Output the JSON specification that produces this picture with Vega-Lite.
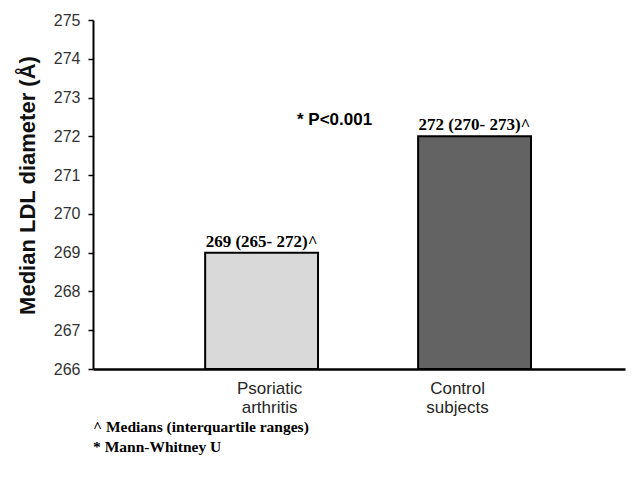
{
  "$schema": "https://vega.github.io/schema/vega-lite/v6.json",
  "width": 532,
  "height": 349,
  "autosize": "none",
  "padding": {"left": 93, "top": 20, "right": 10, "bottom": 119},
  "background": "white",
  "config": {"view": {"stroke": null}},
  "title": {
    "text": ["^ Medians (interquartile ranges)", "* Mann-Whitney U"],
    "orient": "bottom",
    "anchor": "start",
    "frame": "group",
    "align": "left",
    "font": "Liberation Serif",
    "fontSize": 15.5,
    "fontWeight": "bold",
    "color": "black",
    "lineHeight": 20,
    "offset": 5
  },
  "data": {
    "values": [
      {"group": "Psoriatic arthritis", "median": 269, "label": "269 (265- 272)^"},
      {"group": "Control subjects", "median": 272, "label": "272 (270- 273)^"}
    ]
  },
  "encoding": {
    "x": {
      "field": "group",
      "type": "nominal",
      "sort": null,
      "scale": {"paddingInner": 0.47, "paddingOuter": 0.484, "align": 0.544},
      "axis": {
        "title": null,
        "ticks": false,
        "tickSize": 0,
        "domainColor": "black",
        "domainWidth": 2.5,
        "labelAngle": 0,
        "labelFont": "Liberation Sans",
        "labelFontSize": 17,
        "labelColor": "#262626",
        "labelPadding": 11,
        "labelLineHeight": 19,
        "labelExpr": "split(datum.label, ' ')",
        "labelOffset": {"condition": {"test": "datum.value === 'Psoriatic arthritis'", "value": 8}, "value": -17}
      }
    },
    "y": {
      "field": "median",
      "type": "quantitative",
      "scale": {"domain": [266, 275], "nice": false, "zero": false},
      "axis": {
        "title": "Median LDL diameter (Å)",
        "titleFont": "Liberation Sans",
        "titleFontSize": 22,
        "titleFontWeight": "bold",
        "titleColor": "#111111",
        "titleX": -66,
        "titleY": 165,
        "titleAlign": "center",
        "titleBaseline": "middle",
        "titleAngle": -90,
        "values": [266, 267, 268, 269, 270, 271, 272, 273, 274, 275],
        "format": "d",
        "grid": false,
        "domainColor": "black",
        "domainWidth": 2,
        "tickColor": "black",
        "tickWidth": 1.5,
        "tickSize": 5,
        "labelFont": "Liberation Sans",
        "labelFontSize": 16,
        "labelColor": "#333333",
        "labelPadding": 8
      }
    }
  },
  "layer": [
    {
      "mark": {"type": "bar", "stroke": "black", "strokeWidth": 2},
      "encoding": {
        "y2": {"datum": 266},
        "color": {
          "field": "group",
          "type": "nominal",
          "scale": {"domain": ["Psoriatic arthritis", "Control subjects"], "range": ["#d8d9d8", "#636363"]},
          "legend": null
        }
      }
    },
    {
      "mark": {"type": "text", "font": "Liberation Serif", "fontWeight": "bold", "fontSize": 17, "baseline": "alphabetic", "dy": -6, "color": "black"},
      "encoding": {"text": {"field": "label"}}
    },
    {
      "data": {"values": [{"group": "Psoriatic arthritis", "median": 272.42, "note": "* P<0.001"}]},
      "mark": {"type": "text", "font": "Liberation Sans", "fontWeight": "bold", "fontSize": 17, "baseline": "middle", "dx": 73, "color": "black"},
      "encoding": {"text": {"field": "note"}}
    }
  ]
}
